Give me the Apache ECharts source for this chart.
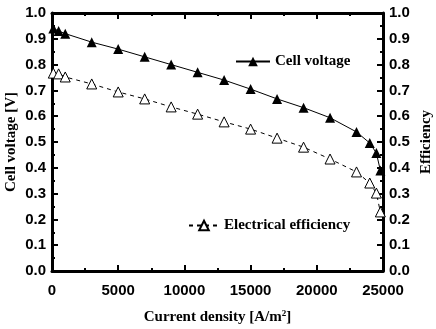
<!DOCTYPE html>
<html>
<head>
<meta charset="utf-8">
<script src="https://cdn.jsdelivr.net/npm/echarts@6/dist/echarts.min.js"></script>
<style>
  html, body { margin: 0; padding: 0; background: #fff; }
  #chart { width: 436px; height: 329px; }
</style>
</head>
<body>
<div id="chart"></div>
<script>
// current density [A/m2]
const currentDensity = [100, 500, 1000, 3000, 5000, 7000, 9000, 11000, 13000, 15000, 17000, 19000, 21000, 23000, 24000, 24500, 24800]
const cellVoltage = [0.94, 0.93, 0.92, 0.887, 0.86, 0.83, 0.80, 0.77, 0.74, 0.705, 0.667, 0.633, 0.594, 0.539, 0.496, 0.457, 0.39]
const efficiency = [0.767, 0.764, 0.752, 0.725, 0.694, 0.667, 0.636, 0.608, 0.578, 0.55, 0.515, 0.48, 0.434, 0.384, 0.341, 0.302, 0.229]

const tickFont = { color: '#000', fontFamily: '"Liberation Sans", Arial, sans-serif', fontWeight: 'bold', fontSize: 15 }
const nameFont = { color: '#000', fontFamily: '"Liberation Serif", "Times New Roman", serif', fontWeight: 'bold', fontSize: 15 }

function frameLine() {
  return { show: true, onZero: false, lineStyle: { color: '#000', width: 3 } }
}
function ticks() {
  return { show: true, inside: true, length: 6, lineStyle: { color: '#000', width: 2 } }
}
function minor() {
  return { show: true, splitNumber: 2, length: 3, lineStyle: { color: '#000', width: 2 } }
}

function pairs(ys) {
  return currentDensity.map((x, i) => [x, ys[i]])
}

const chart = echarts.init(document.getElementById('chart'))

chart.setOption({
  backgroundColor: '#fff',
  animation: false,
  grid: { left: 52, right: 53, top: 13, bottom: 58, outerBoundsMode: 'none', containLabel: false },
  legend: [
    {
      data: ['Cell voltage'],
      left: 230, top: 49,
      itemWidth: 34, itemHeight: 12,
      textStyle: nameFont
    },
    {
      data: ['Electrical efficiency'],
      left: 183, top: 213,
      itemWidth: 30, itemHeight: 12,
      textStyle: nameFont
    }
  ],
  xAxis: [
    {
      type: 'value', min: 0, max: 25000, interval: 5000,
      name: 'Current density [A/m{sup|2}]',
      nameLocation: 'middle', nameGap: 38, nameMoveOverlap: false,
      nameTextStyle: Object.assign({}, nameFont, {
        rich: { sup: { fontFamily: '"Liberation Serif", serif', fontWeight: 'bold', fontSize: 9, verticalAlign: 'top', padding: [0, 0, 8, 0] } }
      }),
      axisLine: frameLine(),
      axisTick: ticks(),
      minorTick: minor(),
      axisLabel: Object.assign({ margin: 12, formatter: v => String(v) }, tickFont),
      splitLine: { show: false }
    },
    {
      type: 'value', min: 0, max: 25000, interval: 5000, position: 'top',
      axisLine: frameLine(),
      axisTick: ticks(),
      minorTick: minor(),
      axisLabel: { show: false },
      splitLine: { show: false }
    }
  ],
  yAxis: [
    {
      type: 'value', min: 0, max: 1, interval: 0.1, position: 'left',
      name: 'Cell voltage [V]',
      nameLocation: 'middle', nameGap: 33, nameMoveOverlap: false,
      nameTextStyle: nameFont,
      axisLine: frameLine(),
      axisTick: ticks(),
      minorTick: minor(),
      axisLabel: Object.assign({ margin: 6, formatter: v => v.toFixed(1) }, tickFont),
      splitLine: { show: false }
    },
    {
      type: 'value', min: 0, max: 1, interval: 0.1, position: 'right',
      name: 'Efficiency',
      nameLocation: 'middle', nameGap: 36, nameMoveOverlap: false,
      nameTextStyle: nameFont,
      axisLine: frameLine(),
      axisTick: ticks(),
      minorTick: minor(),
      axisLabel: Object.assign({ margin: 6, formatter: v => v.toFixed(1) }, tickFont),
      splitLine: { show: false }
    }
  ],
  series: [
    {
      name: 'Cell voltage',
      type: 'line',
      data: pairs(cellVoltage),
      symbol: 'triangle', symbolSize: 10,
      lineStyle: { color: '#000', width: 1 },
      itemStyle: { color: '#000' }
    },
    {
      name: 'Electrical efficiency',
      type: 'line',
      yAxisIndex: 1,
      data: pairs(efficiency),
      symbol: 'triangle', symbolSize: 10,
      lineStyle: { color: '#000', width: 1, type: [4, 4] },
      itemStyle: { color: '#fff', borderColor: '#000', borderWidth: 1 }
    }
  ]
})
</script>
</body>
</html>
